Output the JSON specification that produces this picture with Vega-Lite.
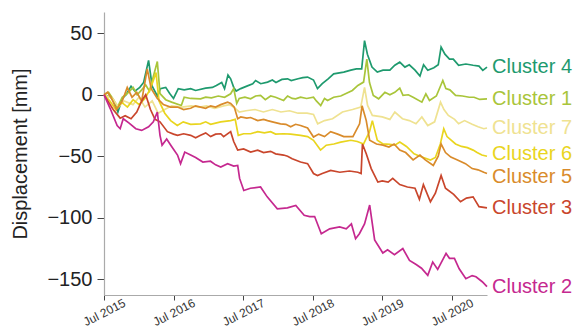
{
"$schema": "https://vega.github.io/schema/vega-lite/v6.json",
"width": 383, "height": 283,
"autosize": "none",
"padding": {"left": 104, "top": 12, "right": 89, "bottom": 34},
"background": "white",
"config": {"view": {"stroke": null}, "font": "Liberation Sans"},
"datasets": {"raw": [
{"c":"Cluster 4","d":"2015-07-01","v":0},{"c":"Cluster 4","d":"2015-08-05","v":-2},{"c":"Cluster 4","d":"2015-08-25","v":-6},{"c":"Cluster 4","d":"2015-09-12","v":-14},{"c":"Cluster 4","d":"2015-10-05","v":-3},{"c":"Cluster 4","d":"2015-10-25","v":0},{"c":"Cluster 4","d":"2015-11-20","v":7},{"c":"Cluster 4","d":"2015-12-10","v":3},{"c":"Cluster 4","d":"2016-01-05","v":6},{"c":"Cluster 4","d":"2016-01-25","v":10},{"c":"Cluster 4","d":"2016-02-20","v":28},{"c":"Cluster 4","d":"2016-03-10","v":7},{"c":"Cluster 4","d":"2016-04-06","v":-1},{"c":"Cluster 4","d":"2016-04-22","v":5},{"c":"Cluster 4","d":"2016-05-20","v":6},{"c":"Cluster 4","d":"2016-06-10","v":1},{"c":"Cluster 4","d":"2016-06-30","v":-3},{"c":"Cluster 4","d":"2016-07-25","v":5},{"c":"Cluster 4","d":"2016-08-25","v":4},{"c":"Cluster 4","d":"2016-09-28","v":5},{"c":"Cluster 4","d":"2016-10-24","v":3.5},{"c":"Cluster 4","d":"2016-12-16","v":5.4},{"c":"Cluster 4","d":"2017-01-20","v":6},{"c":"Cluster 4","d":"2017-02-10","v":7.6},{"c":"Cluster 4","d":"2017-03-10","v":10},{"c":"Cluster 4","d":"2017-03-25","v":5},{"c":"Cluster 4","d":"2017-04-12","v":16},{"c":"Cluster 4","d":"2017-04-26","v":13},{"c":"Cluster 4","d":"2017-05-12","v":6},{"c":"Cluster 4","d":"2017-05-25","v":3},{"c":"Cluster 4","d":"2017-06-18","v":5},{"c":"Cluster 4","d":"2017-07-20","v":7},{"c":"Cluster 4","d":"2017-08-20","v":9},{"c":"Cluster 4","d":"2017-09-04","v":11.6},{"c":"Cluster 4","d":"2017-10-01","v":9},{"c":"Cluster 4","d":"2017-11-06","v":10.3},{"c":"Cluster 4","d":"2017-12-01","v":12},{"c":"Cluster 4","d":"2017-12-20","v":10},{"c":"Cluster 4","d":"2018-01-20","v":12.5},{"c":"Cluster 4","d":"2018-02-19","v":13},{"c":"Cluster 4","d":"2018-03-10","v":11.6},{"c":"Cluster 4","d":"2018-04-15","v":13},{"c":"Cluster 4","d":"2018-05-10","v":14},{"c":"Cluster 4","d":"2018-06-04","v":14.4},{"c":"Cluster 4","d":"2018-07-05","v":12},{"c":"Cluster 4","d":"2018-07-26","v":5},{"c":"Cluster 4","d":"2018-08-20","v":9},{"c":"Cluster 4","d":"2018-09-20","v":13},{"c":"Cluster 4","d":"2018-10-19","v":17},{"c":"Cluster 4","d":"2018-12-11","v":18.4},{"c":"Cluster 4","d":"2019-01-17","v":20},{"c":"Cluster 4","d":"2019-02-15","v":21},{"c":"Cluster 4","d":"2019-03-15","v":21},{"c":"Cluster 4","d":"2019-03-30","v":44},{"c":"Cluster 4","d":"2019-04-14","v":33},{"c":"Cluster 4","d":"2019-05-08","v":22.5},{"c":"Cluster 4","d":"2019-06-05","v":18.4},{"c":"Cluster 4","d":"2019-07-05","v":20},{"c":"Cluster 4","d":"2019-08-10","v":20},{"c":"Cluster 4","d":"2019-09-05","v":24},{"c":"Cluster 4","d":"2019-10-01","v":26.5},{"c":"Cluster 4","d":"2019-10-28","v":22.5},{"c":"Cluster 4","d":"2019-11-20","v":24.4},{"c":"Cluster 4","d":"2019-12-20","v":20},{"c":"Cluster 4","d":"2020-01-15","v":15.2},{"c":"Cluster 4","d":"2020-02-03","v":24.4},{"c":"Cluster 4","d":"2020-02-25","v":20},{"c":"Cluster 4","d":"2020-03-28","v":22},{"c":"Cluster 4","d":"2020-04-20","v":24.4},{"c":"Cluster 4","d":"2020-05-05","v":38.8},{"c":"Cluster 4","d":"2020-05-25","v":33},{"c":"Cluster 4","d":"2020-06-18","v":29},{"c":"Cluster 4","d":"2020-07-08","v":29},{"c":"Cluster 4","d":"2020-08-05","v":24},{"c":"Cluster 4","d":"2020-09-12","v":25},{"c":"Cluster 4","d":"2020-10-20","v":24},{"c":"Cluster 4","d":"2020-11-20","v":23.3},{"c":"Cluster 4","d":"2020-12-10","v":19.8},{"c":"Cluster 4","d":"2021-01-01","v":22.5},
{"c":"Cluster 1","d":"2015-07-01","v":0},{"c":"Cluster 1","d":"2015-07-25","v":2},{"c":"Cluster 1","d":"2015-08-20","v":-4},{"c":"Cluster 1","d":"2015-09-10","v":-10},{"c":"Cluster 1","d":"2015-10-05","v":-2},{"c":"Cluster 1","d":"2015-10-31","v":1},{"c":"Cluster 1","d":"2015-12-01","v":6},{"c":"Cluster 1","d":"2015-12-22","v":0},{"c":"Cluster 1","d":"2016-01-15","v":4},{"c":"Cluster 1","d":"2016-02-05","v":8},{"c":"Cluster 1","d":"2016-02-25","v":3},{"c":"Cluster 1","d":"2016-04-06","v":27},{"c":"Cluster 1","d":"2016-04-20","v":1},{"c":"Cluster 1","d":"2016-05-20","v":-4},{"c":"Cluster 1","d":"2016-06-20","v":-6},{"c":"Cluster 1","d":"2016-08-10","v":-8.7},{"c":"Cluster 1","d":"2016-08-25","v":-2},{"c":"Cluster 1","d":"2016-09-28","v":-3},{"c":"Cluster 1","d":"2016-11-19","v":-3.3},{"c":"Cluster 1","d":"2016-12-16","v":-2},{"c":"Cluster 1","d":"2017-01-15","v":-2.5},{"c":"Cluster 1","d":"2017-02-20","v":-1},{"c":"Cluster 1","d":"2017-03-25","v":-2},{"c":"Cluster 1","d":"2017-04-26","v":0.8},{"c":"Cluster 1","d":"2017-05-12","v":5},{"c":"Cluster 1","d":"2017-05-28","v":-7},{"c":"Cluster 1","d":"2017-06-10","v":-3},{"c":"Cluster 1","d":"2017-07-10","v":-2},{"c":"Cluster 1","d":"2017-08-09","v":-3.3},{"c":"Cluster 1","d":"2017-09-04","v":-1},{"c":"Cluster 1","d":"2017-09-30","v":-0.5},{"c":"Cluster 1","d":"2017-10-25","v":-4},{"c":"Cluster 1","d":"2017-11-22","v":-1},{"c":"Cluster 1","d":"2017-12-18","v":-2},{"c":"Cluster 1","d":"2018-01-29","v":-4.6},{"c":"Cluster 1","d":"2018-02-19","v":-1},{"c":"Cluster 1","d":"2018-03-15","v":-3},{"c":"Cluster 1","d":"2018-04-02","v":-3.3},{"c":"Cluster 1","d":"2018-04-28","v":-2},{"c":"Cluster 1","d":"2018-05-30","v":-3},{"c":"Cluster 1","d":"2018-07-05","v":-2},{"c":"Cluster 1","d":"2018-07-20","v":-5},{"c":"Cluster 1","d":"2018-08-12","v":-8.7},{"c":"Cluster 1","d":"2018-09-01","v":-3},{"c":"Cluster 1","d":"2018-09-17","v":-4.6},{"c":"Cluster 1","d":"2018-10-19","v":-2},{"c":"Cluster 1","d":"2018-11-25","v":-1},{"c":"Cluster 1","d":"2018-12-20","v":0.8},{"c":"Cluster 1","d":"2019-01-25","v":3.5},{"c":"Cluster 1","d":"2019-02-23","v":7.6},{"c":"Cluster 1","d":"2019-03-25","v":10.3},{"c":"Cluster 1","d":"2019-04-11","v":29},{"c":"Cluster 1","d":"2019-04-25","v":10},{"c":"Cluster 1","d":"2019-05-15","v":-0.5},{"c":"Cluster 1","d":"2019-06-12","v":-3.3},{"c":"Cluster 1","d":"2019-07-15","v":2},{"c":"Cluster 1","d":"2019-08-10","v":0},{"c":"Cluster 1","d":"2019-09-05","v":2},{"c":"Cluster 1","d":"2019-10-01","v":5.4},{"c":"Cluster 1","d":"2019-10-18","v":-0.5},{"c":"Cluster 1","d":"2019-11-15","v":0},{"c":"Cluster 1","d":"2019-12-10","v":-2},{"c":"Cluster 1","d":"2020-01-25","v":-6},{"c":"Cluster 1","d":"2020-02-15","v":0.8},{"c":"Cluster 1","d":"2020-03-05","v":-4.6},{"c":"Cluster 1","d":"2020-04-10","v":-1},{"c":"Cluster 1","d":"2020-05-14","v":11.6},{"c":"Cluster 1","d":"2020-05-30","v":5},{"c":"Cluster 1","d":"2020-06-20","v":4},{"c":"Cluster 1","d":"2020-07-20","v":-0.5},{"c":"Cluster 1","d":"2020-08-25","v":-1},{"c":"Cluster 1","d":"2020-09-30","v":-2},{"c":"Cluster 1","d":"2020-10-25","v":-2},{"c":"Cluster 1","d":"2020-11-24","v":-3.8},{"c":"Cluster 1","d":"2021-01-01","v":-3.3},
{"c":"Cluster 7","d":"2015-07-01","v":0},{"c":"Cluster 7","d":"2015-08-15","v":-3},{"c":"Cluster 7","d":"2015-09-15","v":-10},{"c":"Cluster 7","d":"2015-10-15","v":-5},{"c":"Cluster 7","d":"2015-11-30","v":-8},{"c":"Cluster 7","d":"2016-01-01","v":-2},{"c":"Cluster 7","d":"2016-02-01","v":-10},{"c":"Cluster 7","d":"2016-03-10","v":-5},{"c":"Cluster 7","d":"2016-04-10","v":-15},{"c":"Cluster 7","d":"2016-05-15","v":-12},{"c":"Cluster 7","d":"2016-06-20","v":-9},{"c":"Cluster 7","d":"2016-08-13","v":-10},{"c":"Cluster 7","d":"2016-10-01","v":-9},{"c":"Cluster 7","d":"2016-11-15","v":-10},{"c":"Cluster 7","d":"2016-12-20","v":-9},{"c":"Cluster 7","d":"2017-02-01","v":-11},{"c":"Cluster 7","d":"2017-03-20","v":-9},{"c":"Cluster 7","d":"2017-04-20","v":-8},{"c":"Cluster 7","d":"2017-05-20","v":-11},{"c":"Cluster 7","d":"2017-06-10","v":-14},{"c":"Cluster 7","d":"2017-07-15","v":-13},{"c":"Cluster 7","d":"2017-09-01","v":-12},{"c":"Cluster 7","d":"2017-10-15","v":-14},{"c":"Cluster 7","d":"2017-12-01","v":-12},{"c":"Cluster 7","d":"2018-01-15","v":-14},{"c":"Cluster 7","d":"2018-03-01","v":-13},{"c":"Cluster 7","d":"2018-04-15","v":-15},{"c":"Cluster 7","d":"2018-06-01","v":-15},{"c":"Cluster 7","d":"2018-07-05","v":-16},{"c":"Cluster 7","d":"2018-07-27","v":-23.6},{"c":"Cluster 7","d":"2018-09-01","v":-21},{"c":"Cluster 7","d":"2018-10-13","v":-19.5},{"c":"Cluster 7","d":"2018-12-04","v":-14},{"c":"Cluster 7","d":"2019-01-26","v":-12},{"c":"Cluster 7","d":"2019-03-10","v":-10},{"c":"Cluster 7","d":"2019-03-30","v":6},{"c":"Cluster 7","d":"2019-04-15","v":-8.7},{"c":"Cluster 7","d":"2019-05-10","v":-16.8},{"c":"Cluster 7","d":"2019-07-01","v":-18},{"c":"Cluster 7","d":"2019-08-10","v":-20},{"c":"Cluster 7","d":"2019-09-05","v":-14},{"c":"Cluster 7","d":"2019-10-15","v":-19.5},{"c":"Cluster 7","d":"2019-11-20","v":-21},{"c":"Cluster 7","d":"2019-12-25","v":-23.6},{"c":"Cluster 7","d":"2020-01-25","v":-18},{"c":"Cluster 7","d":"2020-02-25","v":-25},{"c":"Cluster 7","d":"2020-04-01","v":-22},{"c":"Cluster 7","d":"2020-05-02","v":-6},{"c":"Cluster 7","d":"2020-05-20","v":-12},{"c":"Cluster 7","d":"2020-06-12","v":-16.8},{"c":"Cluster 7","d":"2020-07-15","v":-20},{"c":"Cluster 7","d":"2020-08-05","v":-23.6},{"c":"Cluster 7","d":"2020-09-05","v":-21},{"c":"Cluster 7","d":"2020-10-15","v":-24},{"c":"Cluster 7","d":"2020-11-15","v":-26},{"c":"Cluster 7","d":"2020-12-15","v":-27.6},{"c":"Cluster 7","d":"2021-01-01","v":-27},
{"c":"Cluster 6","d":"2015-07-01","v":0},{"c":"Cluster 6","d":"2015-08-01","v":-5},{"c":"Cluster 6","d":"2015-09-01","v":-12},{"c":"Cluster 6","d":"2015-10-01","v":-6},{"c":"Cluster 6","d":"2015-11-01","v":-10},{"c":"Cluster 6","d":"2015-12-01","v":-4},{"c":"Cluster 6","d":"2016-01-01","v":-8},{"c":"Cluster 6","d":"2016-02-01","v":-3},{"c":"Cluster 6","d":"2016-03-01","v":5},{"c":"Cluster 6","d":"2016-03-30","v":18},{"c":"Cluster 6","d":"2016-04-15","v":-5},{"c":"Cluster 6","d":"2016-05-15","v":-15},{"c":"Cluster 6","d":"2016-06-15","v":-21},{"c":"Cluster 6","d":"2016-07-20","v":-25},{"c":"Cluster 6","d":"2016-08-20","v":-22},{"c":"Cluster 6","d":"2016-09-28","v":-24},{"c":"Cluster 6","d":"2016-11-19","v":-23.6},{"c":"Cluster 6","d":"2016-12-16","v":-22},{"c":"Cluster 6","d":"2017-01-11","v":-24},{"c":"Cluster 6","d":"2017-02-06","v":-23},{"c":"Cluster 6","d":"2017-03-05","v":-22},{"c":"Cluster 6","d":"2017-04-26","v":-21},{"c":"Cluster 6","d":"2017-05-20","v":-20},{"c":"Cluster 6","d":"2017-06-05","v":-33},{"c":"Cluster 6","d":"2017-07-03","v":-31.7},{"c":"Cluster 6","d":"2017-08-09","v":-31.7},{"c":"Cluster 6","d":"2017-09-15","v":-30},{"c":"Cluster 6","d":"2017-10-20","v":-31},{"c":"Cluster 6","d":"2017-11-22","v":-30},{"c":"Cluster 6","d":"2017-12-18","v":-32},{"c":"Cluster 6","d":"2018-01-29","v":-31.7},{"c":"Cluster 6","d":"2018-03-07","v":-32},{"c":"Cluster 6","d":"2018-04-28","v":-33},{"c":"Cluster 6","d":"2018-06-04","v":-34},{"c":"Cluster 6","d":"2018-07-05","v":-37},{"c":"Cluster 6","d":"2018-08-11","v":-45},{"c":"Cluster 6","d":"2018-09-10","v":-41},{"c":"Cluster 6","d":"2018-10-20","v":-40},{"c":"Cluster 6","d":"2018-11-25","v":-38.5},{"c":"Cluster 6","d":"2019-01-17","v":-37},{"c":"Cluster 6","d":"2019-02-20","v":-38},{"c":"Cluster 6","d":"2019-03-25","v":-40},{"c":"Cluster 6","d":"2019-04-25","v":-30},{"c":"Cluster 6","d":"2019-05-10","v":-21},{"c":"Cluster 6","d":"2019-06-05","v":-37},{"c":"Cluster 6","d":"2019-07-05","v":-40},{"c":"Cluster 6","d":"2019-08-10","v":-40.4},{"c":"Cluster 6","d":"2019-09-05","v":-41},{"c":"Cluster 6","d":"2019-10-01","v":-38.5},{"c":"Cluster 6","d":"2019-11-05","v":-42},{"c":"Cluster 6","d":"2019-12-15","v":-48},{"c":"Cluster 6","d":"2020-01-15","v":-50},{"c":"Cluster 6","d":"2020-03-10","v":-53},{"c":"Cluster 6","d":"2020-04-05","v":-51},{"c":"Cluster 6","d":"2020-05-01","v":-40},{"c":"Cluster 6","d":"2020-05-19","v":-27.6},{"c":"Cluster 6","d":"2020-06-05","v":-34},{"c":"Cluster 6","d":"2020-07-20","v":-40},{"c":"Cluster 6","d":"2020-08-20","v":-42},{"c":"Cluster 6","d":"2020-09-20","v":-43},{"c":"Cluster 6","d":"2020-10-20","v":-45},{"c":"Cluster 6","d":"2020-11-10","v":-47},{"c":"Cluster 6","d":"2020-12-05","v":-49},{"c":"Cluster 6","d":"2021-01-01","v":-50},
{"c":"Cluster 5","d":"2015-07-01","v":0},{"c":"Cluster 5","d":"2015-07-20","v":2},{"c":"Cluster 5","d":"2015-08-10","v":-3},{"c":"Cluster 5","d":"2015-09-05","v":-12},{"c":"Cluster 5","d":"2015-10-05","v":-5},{"c":"Cluster 5","d":"2015-10-31","v":6},{"c":"Cluster 5","d":"2015-11-25","v":-2},{"c":"Cluster 5","d":"2015-12-20","v":2},{"c":"Cluster 5","d":"2016-01-15","v":-5},{"c":"Cluster 5","d":"2016-02-13","v":21},{"c":"Cluster 5","d":"2016-03-05","v":5},{"c":"Cluster 5","d":"2016-04-06","v":-3},{"c":"Cluster 5","d":"2016-05-08","v":-8},{"c":"Cluster 5","d":"2016-06-14","v":-10},{"c":"Cluster 5","d":"2016-07-21","v":-10},{"c":"Cluster 5","d":"2016-08-22","v":-12},{"c":"Cluster 5","d":"2016-09-28","v":-11},{"c":"Cluster 5","d":"2016-10-24","v":-9},{"c":"Cluster 5","d":"2016-11-19","v":-10},{"c":"Cluster 5","d":"2016-12-16","v":-11},{"c":"Cluster 5","d":"2017-01-11","v":-9},{"c":"Cluster 5","d":"2017-02-06","v":-10},{"c":"Cluster 5","d":"2017-03-05","v":-8},{"c":"Cluster 5","d":"2017-04-10","v":-6},{"c":"Cluster 5","d":"2017-04-26","v":-7},{"c":"Cluster 5","d":"2017-05-15","v":-10},{"c":"Cluster 5","d":"2017-06-02","v":-19.5},{"c":"Cluster 5","d":"2017-06-18","v":-18},{"c":"Cluster 5","d":"2017-07-20","v":-19},{"c":"Cluster 5","d":"2017-08-09","v":-18.5},{"c":"Cluster 5","d":"2017-09-15","v":-21},{"c":"Cluster 5","d":"2017-10-16","v":-20},{"c":"Cluster 5","d":"2017-11-06","v":-21},{"c":"Cluster 5","d":"2017-12-01","v":-22},{"c":"Cluster 5","d":"2018-01-13","v":-23.6},{"c":"Cluster 5","d":"2018-02-10","v":-24},{"c":"Cluster 5","d":"2018-03-07","v":-26},{"c":"Cluster 5","d":"2018-04-02","v":-24},{"c":"Cluster 5","d":"2018-04-28","v":-25},{"c":"Cluster 5","d":"2018-06-04","v":-27},{"c":"Cluster 5","d":"2018-07-05","v":-34.4},{"c":"Cluster 5","d":"2018-08-01","v":-32},{"c":"Cluster 5","d":"2018-09-01","v":-34},{"c":"Cluster 5","d":"2018-10-03","v":-30},{"c":"Cluster 5","d":"2018-11-09","v":-32},{"c":"Cluster 5","d":"2018-12-11","v":-34},{"c":"Cluster 5","d":"2019-01-28","v":-34},{"c":"Cluster 5","d":"2019-03-04","v":-23.6},{"c":"Cluster 5","d":"2019-03-17","v":-9},{"c":"Cluster 5","d":"2019-04-08","v":-21},{"c":"Cluster 5","d":"2019-04-26","v":-37},{"c":"Cluster 5","d":"2019-06-01","v":-40},{"c":"Cluster 5","d":"2019-07-05","v":-41},{"c":"Cluster 5","d":"2019-08-05","v":-42.5},{"c":"Cluster 5","d":"2019-09-01","v":-40},{"c":"Cluster 5","d":"2019-10-01","v":-45},{"c":"Cluster 5","d":"2019-11-01","v":-47},{"c":"Cluster 5","d":"2019-12-10","v":-53},{"c":"Cluster 5","d":"2020-01-15","v":-49},{"c":"Cluster 5","d":"2020-02-12","v":-53},{"c":"Cluster 5","d":"2020-03-25","v":-57.5},{"c":"Cluster 5","d":"2020-04-20","v":-50},{"c":"Cluster 5","d":"2020-05-05","v":-40},{"c":"Cluster 5","d":"2020-05-28","v":-47},{"c":"Cluster 5","d":"2020-06-25","v":-50.7},{"c":"Cluster 5","d":"2020-07-30","v":-53},{"c":"Cluster 5","d":"2020-09-10","v":-56},{"c":"Cluster 5","d":"2020-10-15","v":-60},{"c":"Cluster 5","d":"2020-11-15","v":-61},{"c":"Cluster 5","d":"2020-12-15","v":-63},{"c":"Cluster 5","d":"2021-01-01","v":-64},
{"c":"Cluster 3","d":"2015-07-01","v":0},{"c":"Cluster 3","d":"2015-07-25","v":-6},{"c":"Cluster 3","d":"2015-08-18","v":-12},{"c":"Cluster 3","d":"2015-09-24","v":-19},{"c":"Cluster 3","d":"2015-10-20","v":-17},{"c":"Cluster 3","d":"2015-11-20","v":-19.5},{"c":"Cluster 3","d":"2015-12-20","v":-14},{"c":"Cluster 3","d":"2016-01-15","v":-5},{"c":"Cluster 3","d":"2016-02-05","v":0},{"c":"Cluster 3","d":"2016-03-01","v":-12},{"c":"Cluster 3","d":"2016-03-25","v":-20},{"c":"Cluster 3","d":"2016-04-20","v":-22},{"c":"Cluster 3","d":"2016-05-29","v":-30},{"c":"Cluster 3","d":"2016-06-30","v":-32},{"c":"Cluster 3","d":"2016-07-21","v":-33},{"c":"Cluster 3","d":"2016-08-22","v":-31.7},{"c":"Cluster 3","d":"2016-09-28","v":-33},{"c":"Cluster 3","d":"2016-10-24","v":-35},{"c":"Cluster 3","d":"2016-11-19","v":-33},{"c":"Cluster 3","d":"2016-12-16","v":-31},{"c":"Cluster 3","d":"2017-01-11","v":-34},{"c":"Cluster 3","d":"2017-02-06","v":-32},{"c":"Cluster 3","d":"2017-03-05","v":-31.7},{"c":"Cluster 3","d":"2017-03-20","v":-34},{"c":"Cluster 3","d":"2017-04-26","v":-30},{"c":"Cluster 3","d":"2017-05-12","v":-38},{"c":"Cluster 3","d":"2017-06-02","v":-45},{"c":"Cluster 3","d":"2017-07-03","v":-44},{"c":"Cluster 3","d":"2017-08-09","v":-46.6},{"c":"Cluster 3","d":"2017-09-15","v":-45},{"c":"Cluster 3","d":"2017-10-16","v":-47},{"c":"Cluster 3","d":"2017-11-22","v":-46},{"c":"Cluster 3","d":"2017-12-18","v":-48},{"c":"Cluster 3","d":"2018-01-29","v":-49},{"c":"Cluster 3","d":"2018-02-19","v":-50},{"c":"Cluster 3","d":"2018-03-15","v":-52},{"c":"Cluster 3","d":"2018-04-28","v":-54.7},{"c":"Cluster 3","d":"2018-06-04","v":-56},{"c":"Cluster 3","d":"2018-07-05","v":-64},{"c":"Cluster 3","d":"2018-07-26","v":-65.6},{"c":"Cluster 3","d":"2018-08-20","v":-64},{"c":"Cluster 3","d":"2018-10-03","v":-61.5},{"c":"Cluster 3","d":"2018-11-20","v":-63},{"c":"Cluster 3","d":"2019-01-10","v":-62},{"c":"Cluster 3","d":"2019-02-23","v":-63},{"c":"Cluster 3","d":"2019-03-12","v":-64},{"c":"Cluster 3","d":"2019-03-19","v":-40},{"c":"Cluster 3","d":"2019-04-08","v":-48},{"c":"Cluster 3","d":"2019-05-04","v":-60},{"c":"Cluster 3","d":"2019-06-08","v":-71},{"c":"Cluster 3","d":"2019-07-01","v":-70},{"c":"Cluster 3","d":"2019-08-01","v":-71},{"c":"Cluster 3","d":"2019-08-25","v":-68},{"c":"Cluster 3","d":"2019-10-01","v":-73},{"c":"Cluster 3","d":"2019-11-10","v":-75},{"c":"Cluster 3","d":"2019-12-20","v":-76},{"c":"Cluster 3","d":"2020-01-12","v":-85},{"c":"Cluster 3","d":"2020-02-02","v":-73},{"c":"Cluster 3","d":"2020-03-10","v":-87},{"c":"Cluster 3","d":"2020-04-05","v":-80},{"c":"Cluster 3","d":"2020-05-05","v":-65.6},{"c":"Cluster 3","d":"2020-05-28","v":-76},{"c":"Cluster 3","d":"2020-07-10","v":-81},{"c":"Cluster 3","d":"2020-08-15","v":-87},{"c":"Cluster 3","d":"2020-09-15","v":-84},{"c":"Cluster 3","d":"2020-10-20","v":-83},{"c":"Cluster 3","d":"2020-11-20","v":-91},{"c":"Cluster 3","d":"2021-01-01","v":-92},
{"c":"Cluster 2","d":"2015-07-01","v":0},{"c":"Cluster 2","d":"2015-08-02","v":-11},{"c":"Cluster 2","d":"2015-09-08","v":-25},{"c":"Cluster 2","d":"2015-09-24","v":-27.6},{"c":"Cluster 2","d":"2015-10-10","v":-19.5},{"c":"Cluster 2","d":"2015-11-10","v":-23},{"c":"Cluster 2","d":"2015-12-15","v":-27.6},{"c":"Cluster 2","d":"2016-01-15","v":-29},{"c":"Cluster 2","d":"2016-02-20","v":-26},{"c":"Cluster 2","d":"2016-03-16","v":-22},{"c":"Cluster 2","d":"2016-04-06","v":-14},{"c":"Cluster 2","d":"2016-04-20","v":-33},{"c":"Cluster 2","d":"2016-05-01","v":-41},{"c":"Cluster 2","d":"2016-05-25","v":-36},{"c":"Cluster 2","d":"2016-06-20","v":-42},{"c":"Cluster 2","d":"2016-07-21","v":-49},{"c":"Cluster 2","d":"2016-08-06","v":-56},{"c":"Cluster 2","d":"2016-08-28","v":-46.6},{"c":"Cluster 2","d":"2016-09-28","v":-49},{"c":"Cluster 2","d":"2016-10-24","v":-51},{"c":"Cluster 2","d":"2016-12-01","v":-54.7},{"c":"Cluster 2","d":"2017-01-10","v":-54},{"c":"Cluster 2","d":"2017-02-06","v":-57},{"c":"Cluster 2","d":"2017-03-05","v":-58.8},{"c":"Cluster 2","d":"2017-04-10","v":-56},{"c":"Cluster 2","d":"2017-05-12","v":-58},{"c":"Cluster 2","d":"2017-06-02","v":-57.5},{"c":"Cluster 2","d":"2017-06-12","v":-68},{"c":"Cluster 2","d":"2017-07-04","v":-77.8},{"c":"Cluster 2","d":"2017-08-08","v":-76},{"c":"Cluster 2","d":"2017-09-30","v":-75},{"c":"Cluster 2","d":"2017-11-04","v":-83},{"c":"Cluster 2","d":"2017-12-27","v":-92.7},{"c":"Cluster 2","d":"2018-02-18","v":-92},{"c":"Cluster 2","d":"2018-04-03","v":-90},{"c":"Cluster 2","d":"2018-05-17","v":-98},{"c":"Cluster 2","d":"2018-06-15","v":-99},{"c":"Cluster 2","d":"2018-07-11","v":-99},{"c":"Cluster 2","d":"2018-08-15","v":-113},{"c":"Cluster 2","d":"2018-09-28","v":-109},{"c":"Cluster 2","d":"2018-11-19","v":-107.5},{"c":"Cluster 2","d":"2018-12-24","v":-109},{"c":"Cluster 2","d":"2019-01-20","v":-105},{"c":"Cluster 2","d":"2019-02-11","v":-117},{"c":"Cluster 2","d":"2019-03-03","v":-113},{"c":"Cluster 2","d":"2019-03-30","v":-105},{"c":"Cluster 2","d":"2019-04-26","v":-89.7},{"c":"Cluster 2","d":"2019-05-22","v":-118},{"c":"Cluster 2","d":"2019-07-04","v":-128.7},{"c":"Cluster 2","d":"2019-07-29","v":-126},{"c":"Cluster 2","d":"2019-09-03","v":-130},{"c":"Cluster 2","d":"2019-10-17","v":-125},{"c":"Cluster 2","d":"2019-11-21","v":-134.7},{"c":"Cluster 2","d":"2019-12-26","v":-138},{"c":"Cluster 2","d":"2020-01-23","v":-141},{"c":"Cluster 2","d":"2020-02-25","v":-146.8},{"c":"Cluster 2","d":"2020-03-22","v":-136},{"c":"Cluster 2","d":"2020-04-17","v":-142},{"c":"Cluster 2","d":"2020-05-31","v":-129},{"c":"Cluster 2","d":"2020-06-18","v":-133},{"c":"Cluster 2","d":"2020-07-14","v":-133},{"c":"Cluster 2","d":"2020-08-08","v":-141.5},{"c":"Cluster 2","d":"2020-09-12","v":-149.6},{"c":"Cluster 2","d":"2020-10-15","v":-147},{"c":"Cluster 2","d":"2020-11-04","v":-148},{"c":"Cluster 2","d":"2020-12-07","v":-152},{"c":"Cluster 2","d":"2021-01-01","v":-156}
]},
"data": {"name": "raw"},
"encoding": {
  "x": {"field": "d", "type": "temporal",
    "scale": {"type": "utc", "domain": [{"year": 2015, "month": 7, "date": 1, "utc": true}, {"year": 2021, "month": 1, "date": 1, "utc": true}], "nice": false},
    "axis": {"title": null, "grid": false, "format": "%b %Y",
      "values": [{"year": 2015, "month": 7, "date": 1, "utc": true}, {"year": 2016, "month": 7, "date": 1, "utc": true}, {"year": 2017, "month": 7, "date": 1, "utc": true}, {"year": 2018, "month": 7, "date": 1, "utc": true}, {"year": 2019, "month": 7, "date": 1, "utc": true}, {"year": 2020, "month": 7, "date": 1, "utc": true}],
      "labelAngle": -27, "labelAlign": "center", "labelBaseline": "middle", "labelPadding": 12, "labelFontSize": 12, "labelColor": "#333", "labelOverlap": false, "labelFlush": false,
      "tickSize": 5, "tickColor": "#444", "domainColor": "#aaaaaa", "domainWidth": 1.2}},
  "y": {"field": "v", "type": "quantitative",
    "scale": {"domain": [-162.8, 67.3], "nice": false, "zero": false},
    "axis": {"title": "Displacement [mm]", "titleFontSize": 20, "titleFontWeight": "normal", "titleColor": "#222", "titlePadding": 16,
      "values": [-150, -100, -50, 0, 50], "labelFontSize": 20, "labelColor": "#222", "labelPadding": 5,
      "tickSize": 7, "tickColor": "#444", "domainColor": "#aaaaaa", "domainWidth": 1.2, "grid": false}},
  "color": {"field": "c", "type": "nominal", "legend": null,
    "scale": {"domain": ["Cluster 1", "Cluster 2", "Cluster 3", "Cluster 4", "Cluster 5", "Cluster 6", "Cluster 7"],
      "range": ["#a9c53a", "#c5288f", "#c9462c", "#1e9a6e", "#d98b2b", "#e9d51e", "#efe291"]}}
},
"layer": [
  {"mark": {"type": "line", "strokeWidth": 1.7, "interpolate": "linear"}, "encoding": {"detail": {"field": "c"}}},
  {"transform": [{"filter": {"field": "d", "timeUnit": "utcyearmonthdate", "equal": {"year": 2021, "month": 1, "date": 1, "utc": true}}}, {"filter": "datum.c != 'Cluster 5' && datum.c != 'Cluster 6'"}],
   "mark": {"type": "text", "align": "left", "baseline": "middle", "dx": 5, "fontSize": 20},
   "encoding": {"text": {"field": "c"}}},
  {"transform": [{"filter": {"field": "d", "timeUnit": "utcyearmonthdate", "equal": {"year": 2021, "month": 1, "date": 1, "utc": true}}}, {"filter": "datum.c == 'Cluster 6'"}],
   "mark": {"type": "text", "align": "left", "baseline": "middle", "dx": 5, "dy": -2, "fontSize": 20},
   "encoding": {"text": {"field": "c"}}},
  {"transform": [{"filter": {"field": "d", "timeUnit": "utcyearmonthdate", "equal": {"year": 2021, "month": 1, "date": 1, "utc": true}}}, {"filter": "datum.c == 'Cluster 5'"}],
   "mark": {"type": "text", "align": "left", "baseline": "middle", "dx": 5, "dy": 4, "fontSize": 20},
   "encoding": {"text": {"field": "c"}}}
]
}
